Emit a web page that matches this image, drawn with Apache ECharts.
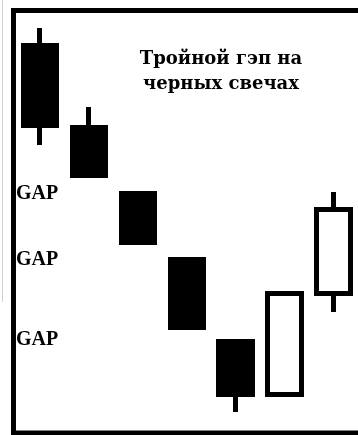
<!DOCTYPE html>
<html>
<head>
<meta charset="utf-8">
<script src="https://cdn.jsdelivr.net/npm/echarts@6/dist/echarts.min.js"></script>
<style>
html,body{margin:0;padding:0;background:#fff;}
#chart{width:358px;height:435px;}
</style>
</head>
<body>
<div id="chart"></div>
<script>
// Session labels (one per candle)
var categories = ['1', '2', '3', '4', '5', '6', '7'];
// Candle values: [open, close, low, high]
var candleValues = [
  [38.45, 30.45, 28.5, 40.2],
  [30.25, 25.45, 25.45, 32.3],
  [23.65, 18.75, 18.75, 23.65],
  [17.05, 10.25, 10.25, 17.05],
  [8.85, 3.55, 1.8, 8.85],
  [3.55, 13.65, 3.55, 13.65],
  [13.65, 22.05, 11.8, 23.8]
];
var titleLines = ['Тройной гэп на', 'черных свечах'];
var gapLabels = ['GAP', 'GAP', 'GAP'];

var chart = echarts.init(document.getElementById('chart'), null, {renderer: 'canvas'});

var gapTops = [184, 250, 330];
var graphics = [
  {type: 'line', shape: {x1: 2.5, y1: 0, x2: 2.5, y2: 302}, style: {stroke: '#d0d0d0', lineWidth: 1}, silent: true},
  {type: 'polyline', shape: {points: [[358, 10.5], [13.5, 10.5], [13.5, 433], [358, 433]]},
   style: {stroke: '#000', lineWidth: 5, fill: null, lineJoin: 'miter'}, silent: true}
];
gapLabels.forEach(function (t, i) {
  graphics.push({
    type: 'text', left: 16, top: gapTops[i],
    style: {text: t, font: 'bold 20px "Liberation Serif"', fill: '#000'}
  });
});

chart.setOption({
  animation: false,
  backgroundColor: '#fff',
  title: {
    text: titleLines.join('\n'),
    left: 216,
    top: 42,
    textAlign: 'center',
    textStyle: {
      fontFamily: 'DejaVu Serif',
      fontWeight: 'bold',
      fontSize: 18,
      lineHeight: 25,
      color: '#000'
    }
  },
  grid: {left: 15.5, top: 13, width: 345, bottom: 5},
  xAxis: {
    type: 'category',
    data: categories,
    boundaryGap: true,
    axisLine: {show: false},
    axisTick: {show: false},
    axisLabel: {show: false},
    splitLine: {show: false}
  },
  yAxis: {
    type: 'value',
    min: 0,
    max: 41.7,
    axisLine: {show: false},
    axisTick: {show: false},
    axisLabel: {show: false},
    splitLine: {show: false}
  },
  graphic: graphics,
  series: [{
    type: 'candlestick',
    data: candleValues,
    barWidth: 34,
    itemStyle: {
      color: '#fff',
      color0: '#000',
      borderColor: '#000',
      borderColor0: '#000',
      borderWidth: 5
    }
  }]
});
</script>
</body>
</html>
